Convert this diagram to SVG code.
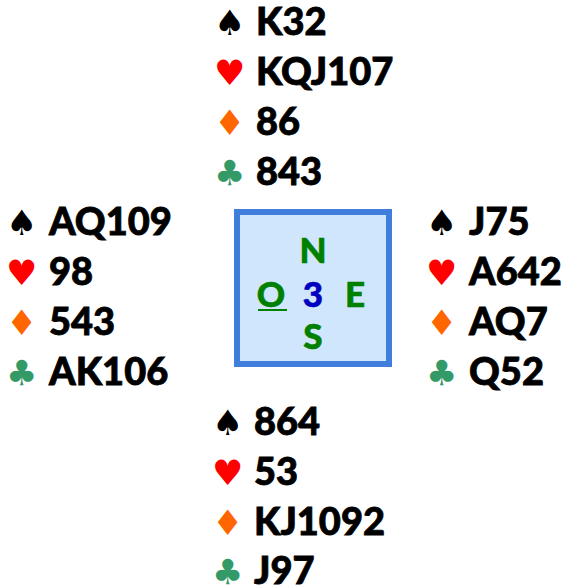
<svg xmlns="http://www.w3.org/2000/svg" width="568" height="588" viewBox="0 0 568 588">
<style>
.t{font-family:Lato,"Liberation Sans",sans-serif;font-weight:900;font-size:38px;fill:#000;stroke:#000;stroke-width:0.8px}
.s{font-family:"DejaVu Sans",sans-serif;font-size:35px}
.sp{fill:#000}.he{fill:#ff0000}.di{fill:#ff6600}.cl{fill:#339966}
.c{font-family:Lato,"Liberation Sans",sans-serif;font-weight:900;font-size:35px;fill:#008000;stroke:#008000;stroke-width:0.6px;text-anchor:middle}
</style>
<g id="north">
<text class="s sp" x="214" y="35">♠</text><text class="t" x="256" y="35">K32</text>
<text class="s he" x="214" y="85">♥</text><text class="t" x="256" y="85">KQJ107</text>
<text class="s di" x="214" y="135">♦</text><text class="t" x="256" y="135">86</text>
<text class="s cl" x="214" y="185">♣</text><text class="t" x="256" y="185">843</text>
</g>
<g id="west">
<text class="s sp" x="6" y="235">♠</text><text class="t" x="49" y="235">AQ109</text>
<text class="s he" x="6" y="285">♥</text><text class="t" x="49" y="285">98</text>
<text class="s di" x="6" y="335">♦</text><text class="t" x="49" y="335">543</text>
<text class="s cl" x="6" y="385">♣</text><text class="t" x="49" y="385">AK106</text>
</g>
<g id="east">
<text class="s sp" x="426" y="235">♠</text><text class="t" x="469" y="235">J75</text>
<text class="s he" x="426" y="285">♥</text><text class="t" x="469" y="285">A642</text>
<text class="s di" x="426" y="335">♦</text><text class="t" x="469" y="335">AQ7</text>
<text class="s cl" x="426" y="385">♣</text><text class="t" x="469" y="385">Q52</text>
</g>
<g id="south">
<text class="s sp" x="212" y="435">♠</text><text class="t" x="254" y="435">864</text>
<text class="s he" x="212" y="485">♥</text><text class="t" x="254" y="485">53</text>
<text class="s di" x="212" y="535">♦</text><text class="t" x="254" y="535">KJ1092</text>
<text class="s cl" x="212" y="584">♣</text><text class="t" x="254" y="584">J97</text>
</g>
<g id="compass">
<rect x="237" y="212" width="152" height="152" fill="#d0e6fc" stroke="#3f7fdb" stroke-width="6"/>
<text class="c" x="313" y="263">N</text>
<text class="c" x="271" y="307">O</text>
<line x1="258" y1="310" x2="287" y2="310" stroke="#008000" stroke-width="2"/>
<text class="c" x="313" y="307" style="fill:#0000c0;stroke:#0000c0">3</text>
<text class="c" x="355" y="307">E</text>
<text class="c" x="313" y="349">S</text>
</g>
<g id="connectors"/>
</svg>
